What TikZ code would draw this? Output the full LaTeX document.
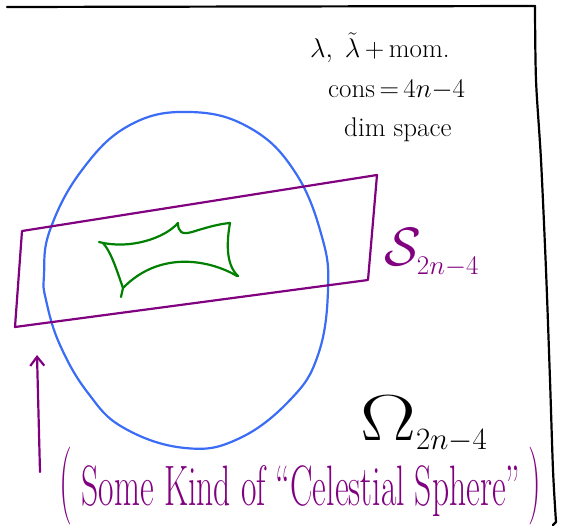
\RequirePackage{fix-cm}
\documentclass[tikz,border=0pt]{standalone}
\usepackage{amsmath}
\usepackage{tikz}
\usetikzlibrary{arrows, arrows.meta}
\definecolor{inkpurple}{RGB}{128,0,128}
\definecolor{inkblue}{RGB}{58,108,246}
\definecolor{inkgreen}{RGB}{0,128,0}
\tikzstyle{pen} = [line width=2.2pt, line cap=round, line join=round]
\tikzstyle{note} = [inner sep=0pt, anchor=base west, font=\fontsize{27}{30}\selectfont]
\tikzstyle{arrow} = [pen, -{Straight Barb[length=9pt, width=14pt]}]

\begin{document}
\begin{tikzpicture}[x=1pt, y=-1pt]
        \useasboundingbox (0,0) rectangle (573,529);

        \draw [pen, black] (7,7) -- (535,6);
        \draw [pen, black] plot [smooth, tension=0.5] coordinates {(535,6) (536,80) (541,160) (546,270) (550,380) (553,470) (556,522)} -- (553,525);

        \node (lam) [note] at (310,58) {$\lambda,\;\tilde{\lambda}$\,+\,mom.};
        \node (cons) [note] at (328,98) {cons\,$=$\,$4n{-}4$};
        \node (dim) [note] at (344,137) {dim space};

        \draw [pen, inkblue] plot [smooth cycle, tension=0.7] coordinates {(190,112) (250,128) (295,172) (322,237) (328,290) (318,355) (290,400) (238,439) (185,448) (124,428) (88,393) (60,345) (46,300) (44,275) (50,230) (82,170) (130,125)};

        \draw [pen, inkpurple] (22,231) -- (377,175) -- (368,280) -- (15,327) -- cycle;

        \draw [pen, inkgreen] (99,242) .. controls (130,250) and (165,238) .. (178,223) .. controls (178,232) and (182,235) .. (192,232) .. controls (205,228) and (218,224) .. (230,223) .. controls (227,240) and (225,264) .. (238,276);
        \draw [pen, inkgreen] (237,276) .. controls (210,260) and (160,250) .. (123,288) -- (121,297);
        \draw [pen, inkgreen] (123,288) .. controls (116,268) and (111,252) .. (103,243);

        \node (slab) [note, inkpurple, font=\fontsize{54}{58}\selectfont] at (384,266) {$\mathcal{S}_{\scriptscriptstyle 2n-4}$};

        \node (omega) [note, font=\fontsize{62}{66}\selectfont] at (360,440) {\scalebox{1.35}[1.05]{$\Omega$}$\vphantom{\Omega}_{\scriptscriptstyle 2n-4}$};

        \coordinate (tail) at (40,472);
        \coordinate (tip) at (37,355);
        \draw [arrow, inkpurple] (tail) -- (tip);

        \node (sphere) [note, inkpurple, anchor=base, font=\fontsize{30}{34}\selectfont] at (300,505) {\scalebox{1.2}[2.6]{(}\hspace{10pt}\scalebox{1.12}[1.9]{Some Kind of ``Celestial Sphere''}\hspace{8pt}\scalebox{1.2}[2.6]{)}};
\end{tikzpicture}
\end{document}
